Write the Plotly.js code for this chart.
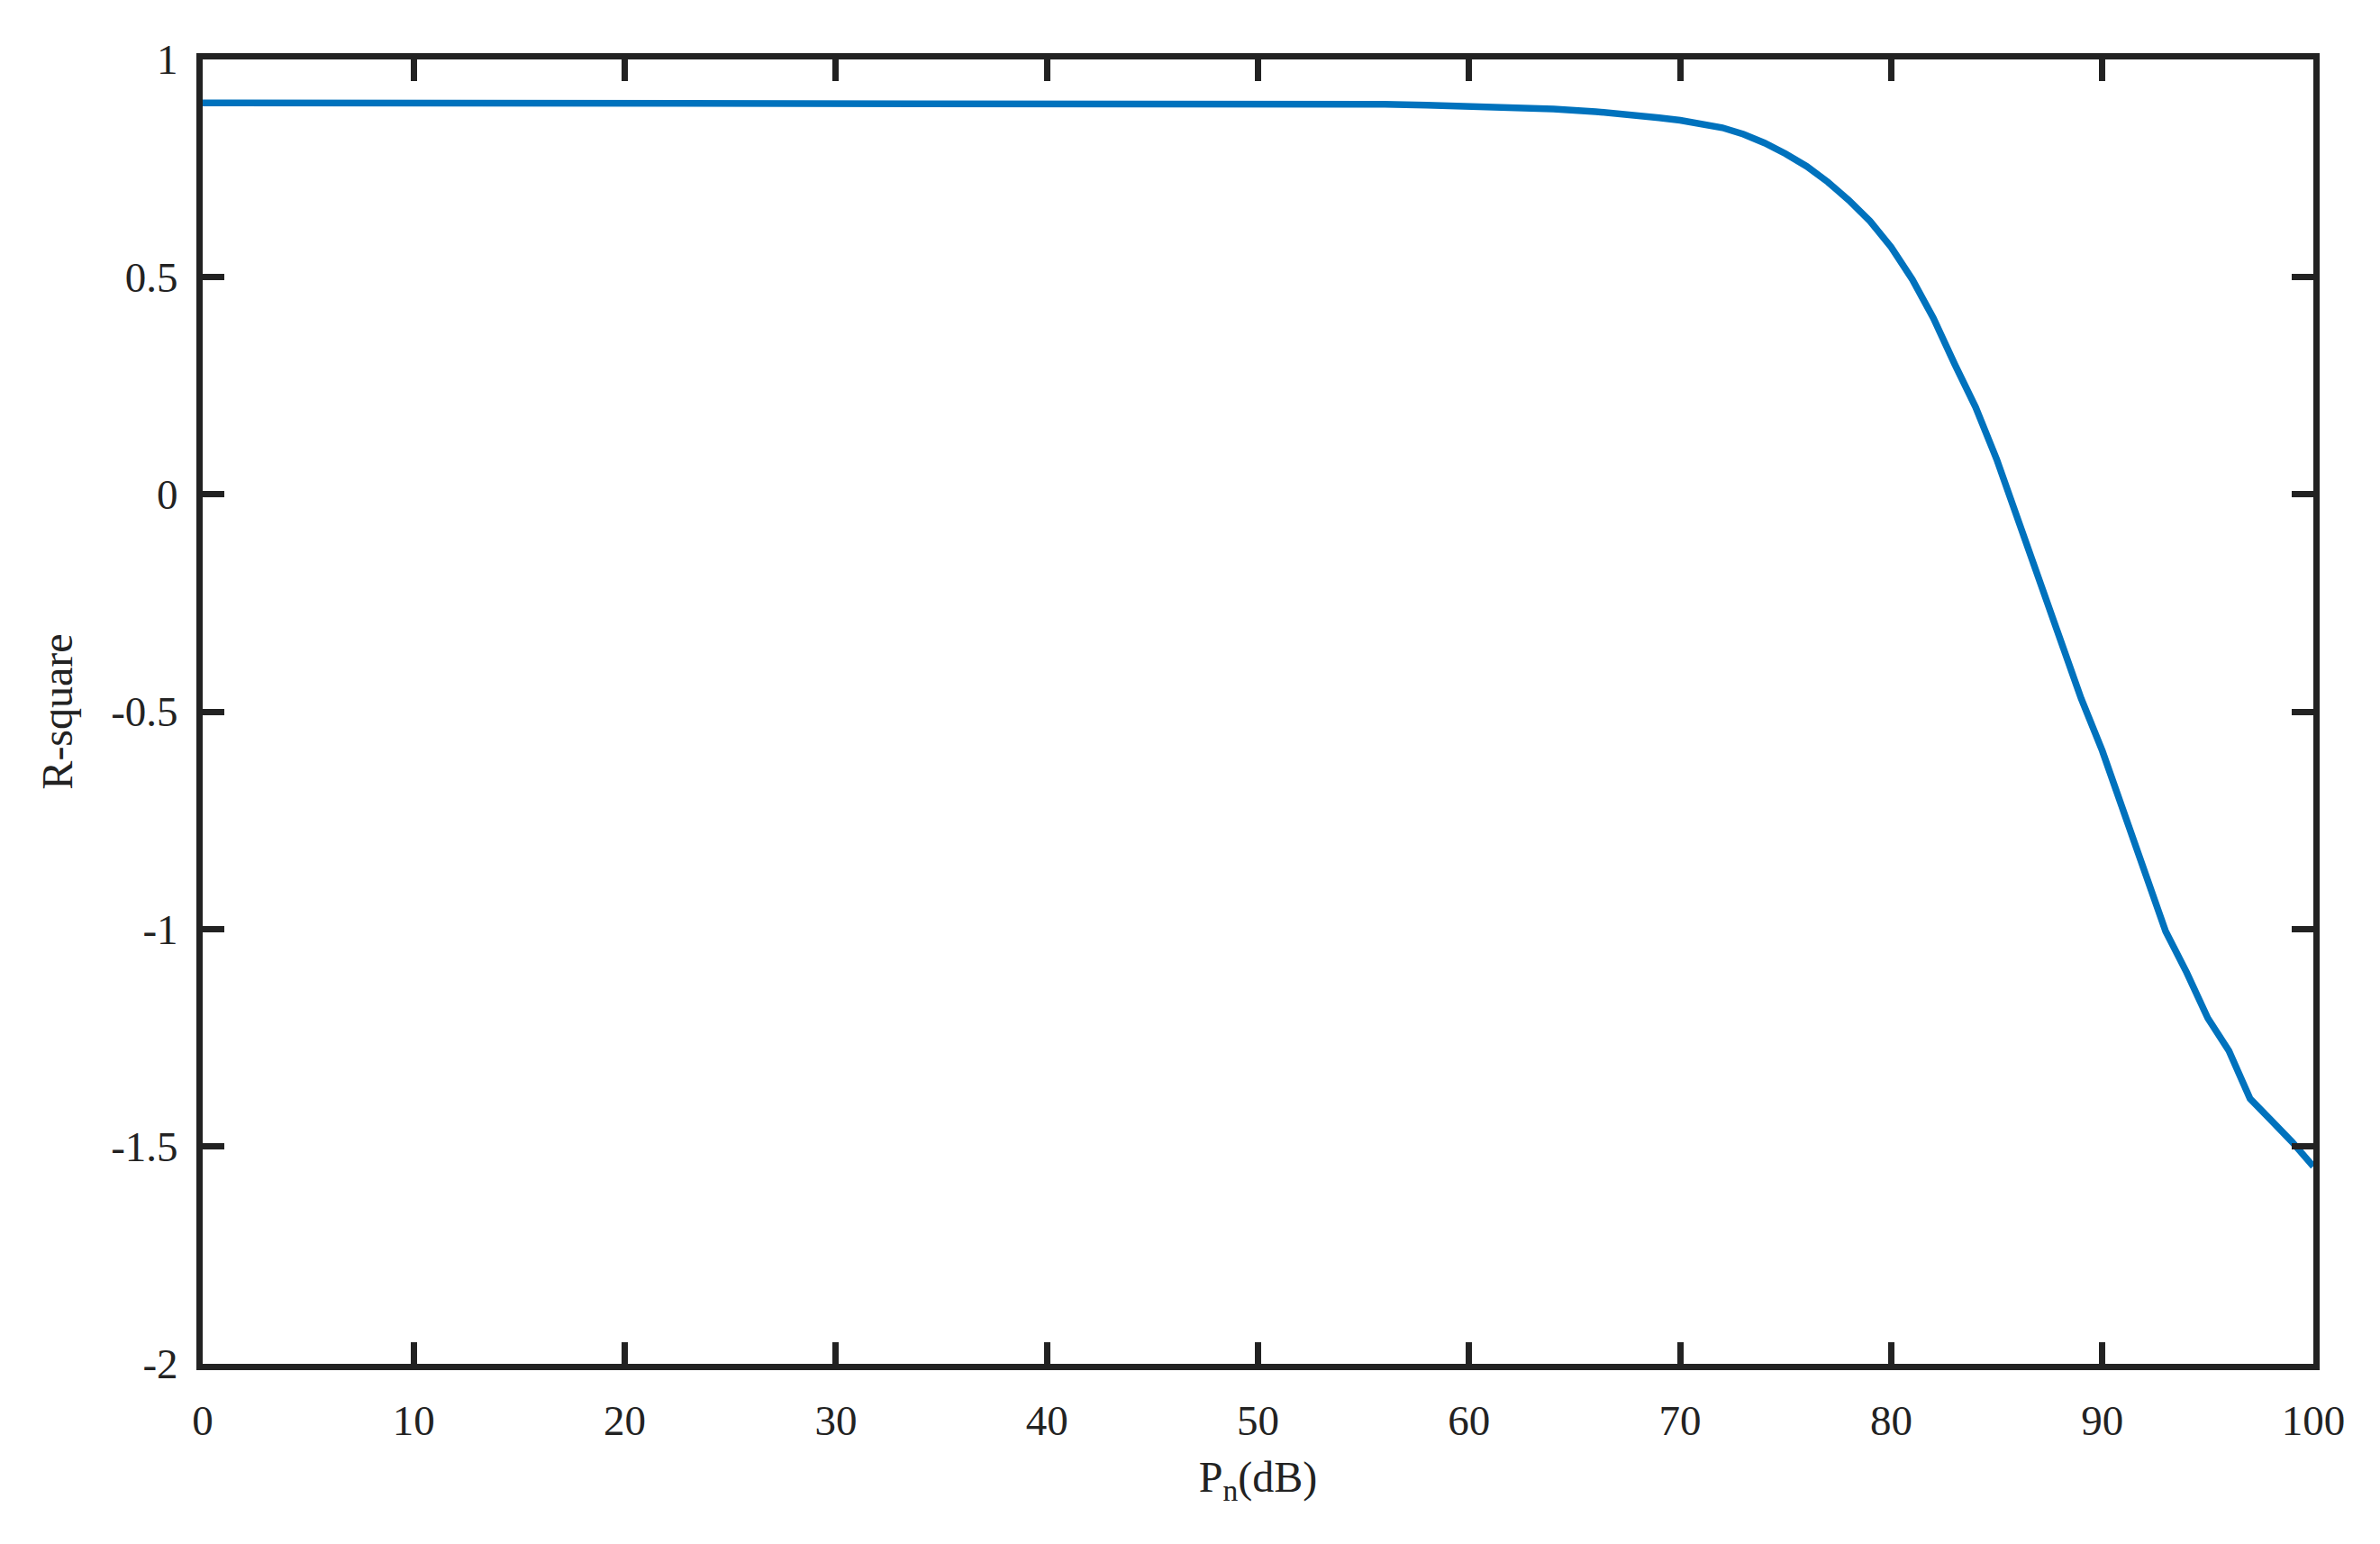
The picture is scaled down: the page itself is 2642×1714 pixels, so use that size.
<!DOCTYPE html>
<html>
<head>
<meta charset="utf-8">
<script src="https://cdn.plot.ly/plotly-3.0.1.min.js"></script>
<style>
  html, body { margin: 0; padding: 0; background: #fff; }
  #graph { width: 2642px; height: 1714px; }
</style>
</head>
<body>
<div id="graph"></div>
<script>
// noise power (dB) and the R-square
const pn = [0, 10, 20, 30, 40, 50, 52, 54, 56, 58, 60, 62, 64, 66, 68, 69, 70, 71, 72, 73, 74, 75,
    76, 77, 78, 79, 80, 81, 82, 83, 84, 85, 86, 87, 88, 89, 90, 91, 92, 93, 94, 95, 96, 97, 98, 99, 100];
const rSquare = [0.900, 0.900, 0.900, 0.900, 0.900, 0.900, 0.899, 0.898, 0.897, 0.895, 0.893, 0.890,
    0.886, 0.880, 0.872, 0.866, 0.860, 0.852, 0.843, 0.828, 0.808, 0.783, 0.754, 0.718, 0.676, 0.628,
    0.568, 0.494, 0.405, 0.300, 0.200, 0.080, -0.057, -0.190, -0.330, -0.470, -0.590, -0.725, -0.865,
    -1.005, -1.100, -1.205, -1.280, -1.390, -1.440, -1.490, -1.546];

const xTicks = [0, 10, 20, 30, 40, 50, 60, 70, 80, 90, 100];
const yTicks = [-2, -1.5, -1, -0.5, 0, 0.5, 1];

const ink = '#222222';
const serif = 'Liberation Serif, Times New Roman, serif';

const trace = {
    x: pn,
    y: rSquare,
    type: 'scatter',
    mode: 'lines',
    line: { color: '#0072BD', width: 7.5 },
    hoverinfo: 'x+y'
};

const axisStyle = {
    showgrid: false,
    zeroline: false,
    showline: true,
    linecolor: ink,
    linewidth: 7,
    mirror: 'ticks',
    ticks: 'inside',
    ticklen: 24,
    tickwidth: 7,
    tickcolor: ink,
    tickfont: { family: serif, size: 47, color: ink },
    automargin: false
};

const layout = {
    width: 2642,
    height: 1714,
    margin: { l: 225, r: 74, t: 66, b: 200 },
    paper_bgcolor: '#ffffff',
    plot_bgcolor: '#ffffff',
    showlegend: false,
    xaxis: {
        ...axisStyle,
        automargin: true,
        range: [0, 100],
        tickvals: xTicks,
        ticktext: xTicks.map(String),
        ticklabelstandoff: 16,
        title: { text: 'P<sub>n</sub>(dB)', font: { family: serif, size: 48, color: ink }, standoff: 22 }
    },
    yaxis: {
        ...axisStyle,
        range: [-2, 1],
        tickvals: yTicks,
        ticktext: yTicks.map(String),
        ticklabelstandoff: 11,
        title: { text: 'R-square', font: { family: serif, size: 48, color: ink }, standoff: 30 }
    }
};

Plotly.newPlot('graph', [trace], layout, { staticPlot: true });
</script>
</body>
</html>
